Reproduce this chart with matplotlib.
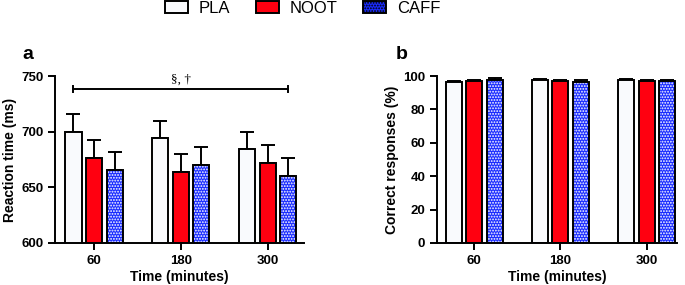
""" Reaction time and correct responses per condition """

import numpy as np
import matplotlib
matplotlib.use("Agg")
import matplotlib.pyplot as plt
import matplotlib.patches as patches

# Data
times = ["60", "180", "300"]
conditions = ["PLA", "NOOT", "CAFF"]

rt_pla = [700, 694, 684]
rt_noot = [676, 664, 672]
rt_caff = [666, 670, 660]
rt_pla_err = [16, 16, 16]
rt_noot_err = [16.5, 16, 16]
rt_caff_err = [16, 16, 16]

cr_pla = [96.5, 97.5, 97.5]
cr_noot = [97.0, 97.0, 97.0]
cr_caff = [97.8, 96.7, 96.8]
cr_pla_err = [0.8, 0.8, 0.8]
cr_noot_err = [0.8, 0.8, 0.8]
cr_caff_err = [0.8, 0.8, 0.8]

plt.rcParams['font.family'] = ['Liberation Sans', 'DejaVu Sans']
plt.rcParams['hatch.linewidth'] = 0.9

styles = {
    "PLA": dict(color="#f9fafd", hatch=None),
    "NOOT": dict(color="#ff0010", hatch=None),
    "CAFF": dict(color="#1a2cff", hatch="......"),
}
width = 0.185
offsets = [-0.237, 0.0, 0.237]
lw = 1.4


def draw_bars(ax, values, errors):
    """ Draw grouped bars with top-only error bars """
    x = np.arange(len(times))
    for name, off, vals, errs in zip(conditions, offsets, values, errors):
        st = styles[name]
        xs = x + off
        ax.errorbar(xs, vals, yerr=[np.zeros(len(errs)), errs], fmt='none',
                    ecolor='black', elinewidth=lw, capsize=5, capthick=lw,
                    zorder=1)
        if st["hatch"]:
            ax.bar(xs, vals, width, color=st["color"], edgecolor='white',
                   hatch=st["hatch"], linewidth=0, zorder=2)
            ax.bar(xs, vals, width, facecolor='none', edgecolor='black',
                   linewidth=lw, zorder=3)
        else:
            ax.bar(xs, vals, width, color=st["color"], edgecolor='black',
                   linewidth=lw, zorder=2)
    ax.set_xticks(x)
    ax.set_xticklabels(times)
    ax.spines['top'].set_visible(False)
    ax.spines['right'].set_visible(False)
    ax.spines['left'].set_linewidth(lw)
    ax.spines['bottom'].set_linewidth(lw)
    ax.tick_params(width=lw, length=5, labelsize=9.5)
    for lab in ax.get_xticklabels() + ax.get_yticklabels():
        lab.set_fontweight('bold')
    ax.set_xlabel("Time (minutes)", fontsize=10, fontweight='bold', labelpad=2)


fig = plt.figure(figsize=(6.85, 2.85), dpi=100)
ax1 = fig.add_axes([0.0803, 0.1474, 0.3635, 0.5859])
ax2 = fig.add_axes([0.638, 0.1474, 0.350, 0.5859])

draw_bars(ax1, [rt_pla, rt_noot, rt_caff], [rt_pla_err, rt_noot_err, rt_caff_err])
ax1.set_ylim(600, 750)
ax1.set_yticks([600, 650, 700, 750])
ax1.set_xlim(-0.45, 2.42)
ax1.set_ylabel("Reaction time (ms)", fontsize=10, fontweight='bold', labelpad=3)

# significance bracket
ax1.plot([offsets[0], 2 + offsets[2]], [738.6, 738.6], color='black', lw=lw,
         clip_on=False)
for xb in [offsets[0], 2 + offsets[2]]:
    ax1.plot([xb, xb], [736, 741], color='black', lw=lw, clip_on=False)
ax1.text(1.0, 741.5, "§, †", ha='center', va='bottom', fontsize=9.5,
         family=['Liberation Serif', 'DejaVu Serif'])

draw_bars(ax2, [cr_pla, cr_noot, cr_caff], [cr_pla_err, cr_noot_err, cr_caff_err])
ax2.set_ylim(0, 100)
ax2.set_yticks([0, 20, 40, 60, 80, 100])
ax2.set_xlim(-0.43, 2.35)
ax2.set_ylabel("Correct responses (%)", fontsize=10, fontweight='bold', labelpad=3)

fig.text(0.033, 0.81, "a", fontsize=14, fontweight='bold', va='center')
fig.text(0.577, 0.81, "b", fontsize=14, fontweight='bold', va='center')

# legend
handles = []
for name in conditions:
    st = styles[name]
    handles.append(patches.Patch(facecolor=st["color"], edgecolor='black',
                                 linewidth=lw, hatch=st["hatch"]))
fig.legend(handles, conditions, loc='upper left', ncol=3,
           bbox_to_anchor=(164 / 685, 1.0), frameon=False, fontsize=12,
           borderpad=0.05, borderaxespad=0,
           handlelength=1.4, handleheight=0.75, handletextpad=0.65,
           columnspacing=1.5)

fig.savefig("out.png", dpi=100)
